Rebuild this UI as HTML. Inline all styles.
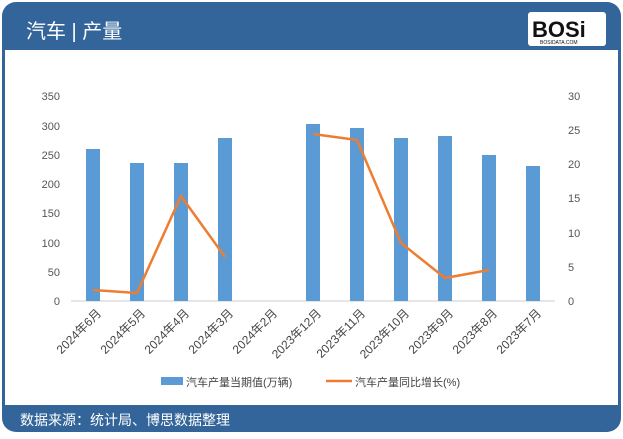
<!DOCTYPE html>
<html><head><meta charset="utf-8"><style>
body{margin:0;width:623px;height:434px;background:#fff;overflow:hidden;font-family:"Liberation Sans","Noto Sans CJK SC",sans-serif}
</style></head><body>
<svg width="623" height="434" xmlns="http://www.w3.org/2000/svg" font-family="Liberation Sans, Noto Sans CJK SC, sans-serif">
<rect x="2" y="2" width="619" height="430" rx="14" fill="#33659a"/>
<rect x="5" y="50" width="613" height="355" fill="#fff"/>
<text x="26" y="38" font-size="20" fill="#fff">汽车 | 产量</text>
<rect x="528" y="12" width="78" height="34" rx="3" fill="#fff"/>
<text x="532" y="37" font-size="22" font-weight="bold" fill="#111">BOSi</text>
<text x="540" y="44" font-size="5" fill="#111">BOSIDATA.COM</text>
<text x="20" y="425" font-size="14" fill="#fff">数据来源：统计局、博思数据整理</text>
<g font-size="11" fill="#555">
<text x="60" y="100" text-anchor="end">350</text><text x="60" y="130" text-anchor="end">300</text>
<text x="60" y="159" text-anchor="end">250</text><text x="60" y="188" text-anchor="end">200</text>
<text x="60" y="217" text-anchor="end">150</text><text x="60" y="247" text-anchor="end">100</text>
<text x="60" y="276" text-anchor="end">50</text><text x="60" y="305" text-anchor="end">0</text>
<text x="568" y="100">30</text><text x="568" y="134">25</text><text x="568" y="168">20</text>
<text x="568" y="202">15</text><text x="568" y="237">10</text><text x="568" y="271">5</text><text x="568" y="305">0</text>
</g>
<line x1="71" y1="301" x2="555" y2="301" stroke="#ccc"/>
<g fill="#5b9bd5">
<rect x="86" y="149" width="14" height="152"/><rect x="130" y="163" width="14" height="138"/>
<rect x="174" y="163" width="14" height="138"/><rect x="218" y="138" width="14" height="163"/>
<rect x="306" y="124" width="14" height="177"/><rect x="350" y="128" width="14" height="173"/>
<rect x="394" y="138" width="14" height="163"/><rect x="438" y="136" width="14" height="165"/>
<rect x="482" y="155" width="14" height="146"/><rect x="526" y="166" width="14" height="135"/>
</g>
<g fill="none" stroke="#ed7d31" stroke-width="2.5">
<polyline points="93,290 137,293 181,196 225,257"/>
<polyline points="313,134 357,140 401,243 445,278 489,270"/>
</g>
<g font-size="12" fill="#444">
<text transform="translate(102,314) rotate(-45)" text-anchor="end">2024年6月</text>
<text transform="translate(146,314) rotate(-45)" text-anchor="end">2024年5月</text>
<text transform="translate(190,314) rotate(-45)" text-anchor="end">2024年4月</text>
<text transform="translate(234,314) rotate(-45)" text-anchor="end">2024年3月</text>
<text transform="translate(278,314) rotate(-45)" text-anchor="end">2024年2月</text>
<text transform="translate(322,314) rotate(-45)" text-anchor="end">2023年12月</text>
<text transform="translate(366,314) rotate(-45)" text-anchor="end">2023年11月</text>
<text transform="translate(410,314) rotate(-45)" text-anchor="end">2023年10月</text>
<text transform="translate(454,314) rotate(-45)" text-anchor="end">2023年9月</text>
<text transform="translate(498,314) rotate(-45)" text-anchor="end">2023年8月</text>
<text transform="translate(542,314) rotate(-45)" text-anchor="end">2023年7月</text>
</g>
<rect x="161" y="377" width="22" height="8" fill="#5b9bd5"/>
<text x="186" y="386" font-size="11" fill="#444">汽车产量当期值(万辆)</text>
<line x1="326" y1="381" x2="352" y2="381" stroke="#ed7d31" stroke-width="2.5"/>
<text x="355" y="386" font-size="11" fill="#444">汽车产量同比增长(%)</text>
</svg>
</body></html>
